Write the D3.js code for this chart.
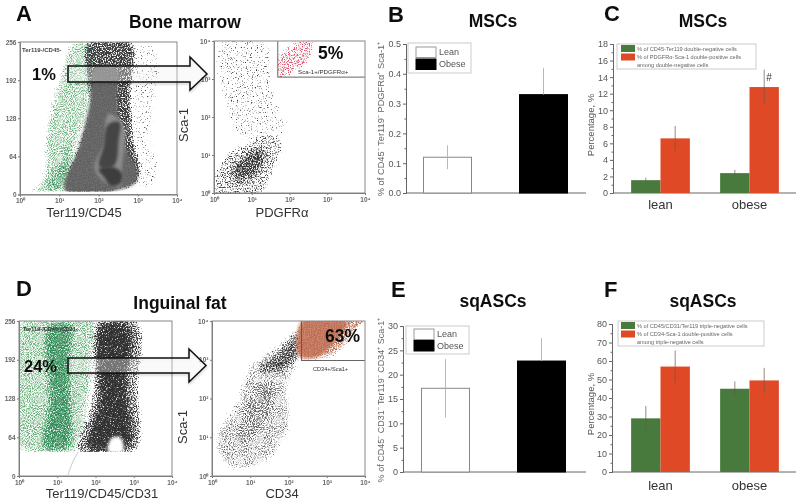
<!DOCTYPE html>
<html><head><meta charset="utf-8">
<script src="https://cdn.jsdelivr.net/npm/d3@7"></script>
<style>
html,body{margin:0;padding:0;background:#fff}
svg{display:block}
text{font-family:"Liberation Sans",Arial,sans-serif}
</style></head><body>
<svg id="c" width="800" height="504" xmlns="http://www.w3.org/2000/svg"></svg>
<script>
// ---------- bar chart data ----------
const groupsBE = ["Lean","Obese"];
const barB = [0.12,0.33];
const errB = [0.04,0.09];
const barE = [17.2,22.8];
const errE = [6,4.7];
const catsCF = ["lean","obese"];
const seriesCF = ["neg","pos"];
const barCgreen = [1.55,2.4];
const barCred = [6.6,12.8];
const errCgreen = [0.3,0.4];
const errCred = [1.5,2.1];
const barFgreen = [29,45];
const barFred = [57,49.5];
const errFgreen = [6.7,4];
const errFred = [8.7,6.8];
const legendC = ["% of CD45-Ter119 double-negative cells","% of PDGFRα-Sca-1 double-positive cells","among double-negative cells"];
const legendF = ["% of CD45/CD31/Ter119 triple-negative cells","% of CD34-Sca-1 double-positive cells","among triple-negative cells"];
const ticksB=[0,0.1,0.2,0.3,0.4,0.5], ticksC=[0,2,4,6,8,10,12,14,16,18], ticksE=[0,5,10,15,20,25,30], ticksF=[0,10,20,30,40,50,60,70,80];
const decades=[0,1,2,3,4], channels=[0,64,128,192,256];
// ---------- flow cytometry density outlines: [log10 x, channel or log10 y] ----------
const aLeftGreen=[[.25,4],[.5,24],[.62,102],[1.05,214],[1.35,258],[1.8,258],[1.8,141],[1.5,80],[1.2,4]];
const aLeftGreenCore=[[.55,5],[1.15,5],[1.35,70],[1.3,110],[.95,60]];
const aLeftOut=[[2.7,254],[3.3,254],[3.4,100],[3.5,20],[3.2,6],[2.8,15]];
const aLeftGray=[[1.15,6],[1.45,80],[1.74,141],[1.74,258],[2.85,258],[2.85,158],[2.95,85],[3.1,35],[3.02,20],[2.47,5]];
const aLeftCore=[[1.15,6],[1.53,85],[1.79,158],[1.96,215],[2.42,215],[2.48,158],[2.68,80],[2.98,41],[2.98,24],[2.47,7]];
const aLeftRing=[[2.30,136],[2.55,125],[2.60,46],[2.55,13],[2.21,18],[1.91,41],[2.13,85]];
const aLeftLoop=[[2.30,120],[2.51,122],[2.51,91],[2.34,46],[2.04,46],[2.13,80]];
const aLeftBlob=[[2.0,41],[2.38,46],[2.60,35],[2.55,18],[2.34,14],[2.13,30]];
const aRightSparse=[[.07,3.96],[1.40,3.96],[1.66,2.46],[1.92,1.85],[1.75,1.32],[.69,1.41],[.25,2.46]];
const aRightCloud=[[.02,.6],[.34,1.05],[.87,1.35],[1.40,1.6],[1.85,1.4],[1.65,.70],[1.3,.0],[.02,.0]];
const aRightCore=[[.3,.55],[.78,1.1],[1.35,1.32],[1.5,.97],[1.15,.35],[.5,.15]];
const aRightRed=[[1.62,3.45],[2.05,3.95],[2.65,4.05],[2.6,3.55],[2.1,3.12],[1.72,3.0]];
const dLeftGreen=[[.07,40],[.07,258],[2.03,258],[1.98,219],[1.85,120],[1.50,40]];
const dLeftGreenCore=[[.6,40],[.7,120],[.9,258],[1.35,258],[1.4,175],[1.46,120],[1.29,40]];
const dLeftGray=[[1.50,40],[1.85,120],[1.98,219],[2.03,258],[3.07,258],[3.16,147],[3.07,40]];
const dLeftCore=[[1.68,40],[1.98,120],[2.11,258],[2.90,258],[2.94,147],[2.94,40]];
const dLeftHole=[[2.33,40],[2.46,64],[2.63,64],[2.72,40]];
const dLeftTail=[[1.28,2],[1.4,24],[1.55,40]];
const dRightCloud=[[.03,.83],[.56,1.87],[.99,2.90],[1.86,3.50],[2.34,3.97],[2.34,3.0],[2.04,2.47],[2.04,1.18],[1.25,.23],[.38,.23]];
const dRightBand=[[.99,2.73],[1.52,3.16],[2.34,3.85],[2.34,3.03],[1.95,2.64],[1.34,2.55]];
const dRightMid=[[.56,.83],[.73,1.61],[1.17,2.47],[1.69,2.47],[1.34,1.18],[.91,.75]];
const dRightRed=[[2.34,4.05],[4.05,4.05],[3.69,3.59],[3.17,3.07],[2.82,2.98],[2.34,2.98]];
const dRightRedCore=[[2.34,4],[3.52,4],[3.17,3.41],[2.74,3.07],[2.34,3.05]];

const svg=d3.select("#c");
const defs=svg.append("defs");
const sup=d=>"10"+"⁰¹²³⁴"[d];
function speck(id,color,sigma,freq,slope,seed){
  const f=defs.append("filter").attr("id",id).attr("filterUnits","userSpaceOnUse")
    .attr("x",0).attr("y",0).attr("width",800).attr("height",504).attr("color-interpolation-filters","sRGB");
  f.append("feTurbulence").attr("type","fractalNoise").attr("baseFrequency",freq).attr("numOctaves",2).attr("seed",seed).attr("result","n");
  f.append("feGaussianBlur").attr("in","SourceAlpha").attr("stdDeviation",sigma).attr("result","b");
  f.append("feComposite").attr("in","b").attr("in2","n").attr("operator","arithmetic")
    .attr("k1",0).attr("k2",1).attr("k3",1).attr("k4",-1).attr("result","m");
  const t=f.append("feComponentTransfer").attr("in","m").attr("result","s");
  t.append("feFuncA").attr("type","linear").attr("slope",slope).attr("intercept",0);
  f.append("feFlood").attr("flood-color",color).attr("result","fl");
  f.append("feComposite").attr("in","fl").attr("in2","s").attr("operator","in");
}
speck("sg","#62ad74",3,.95,3.2,5);
speck("sgg","#2f8a58",5,.95,3.2,11);
speck("sk","#3a3a3a",2.5,.8,5,3);
speck("skk","#333",6,.8,4,17);
speck("sl","#555",3.5,.95,3,7);
speck("srr","#e0506a",2.5,.85,5,13);
speck("sor","#b8694e",3,.85,3,23);
const soft=defs.append("filter").attr("id","soft").attr("x","-20%").attr("y","-20%").attr("width","140%").attr("height","140%");
soft.append("feGaussianBlur").attr("stdDeviation",1.5);
const all=defs.append("filter").attr("id","all").attr("filterUnits","userSpaceOnUse").attr("x",0).attr("y",0).attr("width",800).attr("height",504);
all.append("feGaussianBlur").attr("stdDeviation",.42);
const sh=defs.append("filter").attr("id","shadow").attr("x","-10%").attr("y","-30%").attr("width","120%").attr("height","170%");
sh.append("feDropShadow").attr("dx",.5).attr("dy",1.5).attr("stdDeviation",1.2).attr("flood-opacity",.22);

const root=svg.append("g").attr("filter","url(#all)");
let clipN=0;
function flow(b,yTicks,yFmt,yDom,layers,gates){
  const x=d3.scaleLinear().domain([0,4]).range([b.x0,b.x1]);
  const y=d3.scaleLinear().domain(yDom).range([b.y1,b.y0]);
  const line=d3.line().x(d=>x(d[0])).y(d=>y(d[1])).curve(d3.curveCatmullRomClosed.alpha(1));
  const id="cl"+(clipN++);
  const clipBottom=b.floor===undefined?b.y1:y(b.floor);
  defs.append("clipPath").attr("id",id).append("rect").attr("x",b.x0).attr("y",b.y0).attr("width",b.x1-b.x0).attr("height",clipBottom-b.y0);
  const g=root.append("g");
  const pg=g.append("g").attr("clip-path",`url(#${id})`);
  layers.forEach(l=>{
    const p=pg.append("path").attr("d",line(l.pts));
    if(l.f) p.attr("filter",`url(#${l.f})`).attr("fill","#000").attr("fill-opacity",l.d);
    else p.attr("fill",l.c).attr("fill-opacity",l.d||1).attr("filter","url(#soft)");
  });
  (gates||[]).forEach(r=>{
    pg.append("rect").attr("x",x(r[0])).attr("y",y(r[3])).attr("width",x(r[1])-x(r[0])).attr("height",y(r[2])-y(r[3]))
      .attr("fill","none").attr("stroke","#555").attr("stroke-width",.9);
  });
  const ax=g.append("g").attr("transform",`translate(0,${b.y1})`).call(d3.axisBottom(x).tickValues(decades).tickFormat(sup).tickSize(2).tickPadding(2));
  const ay=g.append("g").attr("transform",`translate(${b.x0},0)`).call(d3.axisLeft(y).tickValues(yTicks).tickFormat(yFmt).tickSize(2).tickPadding(1.5));
  [ax,ay].forEach(a=>{a.selectAll("path").attr("stroke","#777");a.selectAll("line").attr("stroke","#777");
    a.selectAll("text").attr("font-size",6.5).attr("font-weight","bold").attr("fill","#666");});
  g.append("rect").attr("x",b.x0).attr("y",b.y0).attr("width",b.x1-b.x0).attr("height",b.y1-b.y0).attr("fill","none").attr("stroke","#888").attr("stroke-width",1);
  return {x,y,g};
}
const pA1=flow({x0:20,x1:177,y0:42,y1:194.5,floor:5},channels,d=>d,[0,256],[
  {pts:aLeftOut,f:"sk",d:.38},
  {pts:aLeftGreen,f:"sg",d:.6},
  {pts:aLeftGreenCore,f:"sgg",d:.62},
  {pts:aLeftGray,f:"sk",d:.68},
  {pts:aLeftCore,c:"#666",d:.92},
  {pts:aLeftRing,c:"#8c8c8c"},
  {pts:aLeftLoop,c:"#444"},
  {pts:aLeftBlob,c:"#3c3c3c"}
]);
pA1.g.append("line").attr("x1",pA1.x(1.74)).attr("x2",pA1.x(1.74)).attr("y1",pA1.y(254)).attr("y2",pA1.y(170)).attr("stroke","#567").attr("stroke-width",.7);
const pA2=flow({x0:214,x1:365,y0:41,y1:193},decades,sup,[0,4],[
  {pts:aRightSparse,f:"sk",d:.4},
  {pts:aRightCloud,f:"sk",d:.5},
  {pts:aRightCore,f:"skk",d:.67},
  {pts:aRightRed,f:"srr",d:.52}
],[[1.69,4.2,3.05,4.2]]);
const pD1=flow({x0:19,x1:172,y0:321,y1:476,floor:40},channels,d=>d,[0,256],[
  {pts:dLeftGreen,f:"sg",d:.62},
  {pts:dLeftGreenCore,f:"sgg",d:.72},
  {pts:dLeftGray,f:"sk",d:.58},
  {pts:dLeftCore,f:"skk",d:.78},
  {pts:dLeftHole,c:"#fff"}
]);
pD1.g.append("path").attr("d",d3.line().x(d=>pD1.x(d[0])).y(d=>pD1.y(d[1])).curve(d3.curveBasis)(dLeftTail)).attr("fill","none").attr("stroke","#bbb").attr("stroke-width",.8);
const pD2=flow({x0:212,x1:365,y0:321,y1:476},decades,sup,[0,4],[
  {pts:dRightCloud,f:"sl",d:.55},
  {pts:dRightMid,f:"sl",d:.6},
  {pts:dRightBand,f:"skk",d:.66},
  {pts:dRightRed,f:"sor",d:.68},
  {pts:dRightRedCore,c:"#bf6a50",d:.8}
],[[2.34,4.2,2.98,4.2]]);

function txt(s,x,y,size,o={}){
  const t=root.append("text").attr("x",x).attr("y",y).attr("font-size",size).text(s)
    .attr("fill",o.fill||"#111").attr("font-weight",o.b?"bold":"normal").attr("text-anchor",o.a||"start");
  if(o.r) t.attr("transform",`rotate(-90 ${x} ${y})`);
  return t;
}
function arrow(x0,x1,xTip,yTop,yBot,headTop,headBot){
  const mid=(yTop+yBot)/2;
  const pts=[[x0,yTop],[x1,yTop],[x1,headTop],[xTip,mid],[x1,headBot],[x1,yBot],[x0,yBot]];
  root.append("path").attr("d",d3.line()(pts)+"Z").attr("fill","#fff").attr("fill-opacity",.3).attr("stroke","#111").attr("stroke-width",1.5).attr("filter","url(#shadow)");
}
arrow(68,190,207,66,82,57,90);
arrow(68,189,206,358,373,349,382);

// panel letters and titles
[["A",16,21],["D",16,296]].forEach(d=>txt(d[0],d[1],d[2],22,{b:1}));
[["B",388,22],["E",391,297],["C",604,21],["F",604,297]].forEach(d=>txt(d[0],d[1],d[2],22,{b:1}));
txt("Bone marrow",185,28,17.5,{b:1,a:"middle"});
txt("Inguinal fat",180,309,17.5,{b:1,a:"middle"});
[["MSCs",493,27],["MSCs",703,27],["sqASCs",493,307],["sqASCs",703,307]].forEach(d=>txt(d[0],d[1],d[2],17.5,{b:1,a:"middle"}));
// flow labels
[["Ter119/CD45",84,217],["PDGFRα",282,217],["Ter119/CD45/CD31",102,498],["CD34",282,498]].forEach(d=>txt(d[0],d[1],d[2],13,{a:"middle",fill:"#333"}));
txt("Sca-1",188,125,13,{a:"middle",r:1,fill:"#333"});
txt("Sca-1",187,427,13,{a:"middle",r:1,fill:"#333"});
txt("1%",32,80,16.5,{b:1});
txt("5%",318,59,17.5,{b:1});
txt("24%",24,372,16.5,{b:1});
txt("63%",325,342,17.5,{b:1});
txt("Ter119-/CD45-",22,52,6,{b:1,fill:"#444"});
txt("Ter119-/CD45-/CD31-",23,331,5.6,{b:1,fill:"#333"});
txt("Sca-1+/PDGFRα+",298,74,6.2,{fill:"#333"});
txt("CD34+/Sca1+",313,371,5.6,{fill:"#333"});

// simple bar panels
function axisStyle(a){a.selectAll("path").attr("stroke","#666");a.selectAll("line").attr("stroke","#666");
  a.selectAll("text").attr("font-size",9).attr("fill","#555");}
function yAxis(y,x0,x1,ticks,fmt){
  const step=ticks[1]-ticks[0];
  const minor=d3.merge(ticks.slice(1).map(t=>[t-step/2]));
  const m=root.append("g").attr("transform",`translate(${x0},0)`).call(d3.axisLeft(y).tickValues(minor).tickFormat("").tickSize(1.5));
  axisStyle(m);
  const a=root.append("g").attr("transform",`translate(${x0},0)`).call(d3.axisLeft(y).tickValues(ticks).tickFormat(fmt).tickSize(3).tickPadding(2).tickSizeOuter(0));
  axisStyle(a);
  root.append("line").attr("x1",x0).attr("x2",x1).attr("y1",y.range()[0]).attr("y2",y.range()[0]).attr("stroke","#666").attr("stroke-width",1);
}
function errBar(x,yHi,yLo,c,w){
  root.append("line").attr("x1",x).attr("x2",x).attr("y1",yHi).attr("y2",yLo).attr("stroke",c).attr("stroke-width",w);
}
function bw(o){
  const x=d3.scaleBand().domain(groupsBE).range(o.xr).paddingInner(.5).paddingOuter(.25);
  const y=d3.scaleLinear().domain([0,d3.max(o.ticks)]).range(o.yr);
  yAxis(y,o.x0,o.x1,o.ticks,o.fmt);
  groupsBE.forEach((g,i)=>{
    root.append("rect").attr("x",x(g)).attr("y",y(o.vals[i])).attr("width",x.bandwidth()).attr("height",y(0)-y(o.vals[i]))
      .attr("fill",i?"#000":"#fff").attr("stroke",i?"#000":"#888").attr("stroke-width",1);
    errBar(x(g)+x.bandwidth()/2,y(o.vals[i]+o.errs[i]),i?y(o.vals[i]):y(o.vals[i]-o.errs[i]),"#b0b0b0",.9);
  });
  const L=o.leg;
  root.append("rect").attr("x",L.x).attr("y",L.y).attr("width",L.w).attr("height",L.h).attr("fill","#fff").attr("stroke","#ccc");
  groupsBE.forEach((g,i)=>{
    root.append("rect").attr("x",L.sx).attr("y",L.sy+i*L.dy).attr("width",20).attr("height",10.5)
      .attr("fill",i?"#000":"#fff").attr("stroke",i?"#000":"#999");
    txt(g,L.sx+23,L.sy+8+i*L.dy,9,{fill:"#555"});
  });
}
bw({xr:[399.5,591.5],yr:[193,44],x0:406,x1:586,ticks:ticksB,fmt:d3.format(".1f"),vals:barB,errs:errB,
  leg:{x:408,y:43,w:63,h:30,sx:416,sy:47,dy:12}});
bw({xr:[397.5,589.5],yr:[472,326],x0:403,x1:586,ticks:ticksE,fmt:d=>d,vals:barE,errs:errE,
  leg:{x:406,y:326,w:63,h:28,sx:414,sy:329,dy:11.5}});
txt("% of CD45⁻ Ter119⁻ PDGFRα⁺ Sca-1⁺",384,119,9.3,{a:"middle",r:1,fill:"#666"});
txt("% of CD45⁻ CD31⁻ Ter119⁻ CD34⁺ Sca-1⁺",384,400,9,{a:"middle",r:1,fill:"#666"});

const green="#4a7a3c", red="#e04a28";
function gb(o){
  const x=d3.scaleBand().domain(catsCF).range([616,794]).paddingInner(.34).paddingOuter(.17);
  const s=d3.scaleBand().domain(seriesCF).range([0,x.bandwidth()]);
  const y=d3.scaleLinear().domain([0,d3.max(o.ticks)]).range(o.yr);
  yAxis(y,o.x0,796,o.ticks,d=>d);
  catsCF.forEach((c,i)=>{
    [[o.g,o.ge,green],[o.r,o.re,red]].forEach((d,j)=>{
      const bx=x(c)+s(seriesCF[j]);
      root.append("rect").attr("x",bx).attr("y",y(d[0][i])).attr("width",s.bandwidth()).attr("height",y(0)-y(d[0][i])).attr("fill",d[2]);
      errBar(bx+s.bandwidth()/2,y(d[0][i]+d[1][i]),y(d[0][i]-d[1][i]),"#6b5a4a",.7);
    });
    txt(c,x(c)+x.bandwidth()/2,o.catY,13,{a:"middle",fill:"#333"});
  });
  const L=o.leg;
  root.append("rect").attr("x",L.x).attr("y",L.y).attr("width",L.w).attr("height",L.h).attr("fill","#fff").attr("stroke","#ccc");
  [green,red].forEach((c,i)=>root.append("rect").attr("x",621).attr("y",L.sy+i*8.5).attr("width",14).attr("height",7).attr("fill",c));
  o.legend.forEach((t,i)=>txt(t,637,L.sy+6+i*8,5.6,{fill:"#666"}));
}
gb({yr:[193,44],x0:613,ticks:ticksC,g:barCgreen,ge:errCgreen,r:barCred,re:errCred,catY:209,legend:legendC,
  leg:{x:617,y:44,w:139,h:25,sy:45}});
gb({yr:[472,324],x0:612,ticks:ticksF,g:barFgreen,ge:errFgreen,r:barFred,re:errFred,catY:490,legend:legendF,
  leg:{x:618,y:321,w:146,h:25,sy:322}});
txt("#",769,81,10,{a:"middle",fill:"#333"});
txt("Percentage, %",594,125,9.5,{a:"middle",r:1,fill:"#555"});
txt("Percentage, %",594,404,9.5,{a:"middle",r:1,fill:"#555"});
</script>
</body></html>
